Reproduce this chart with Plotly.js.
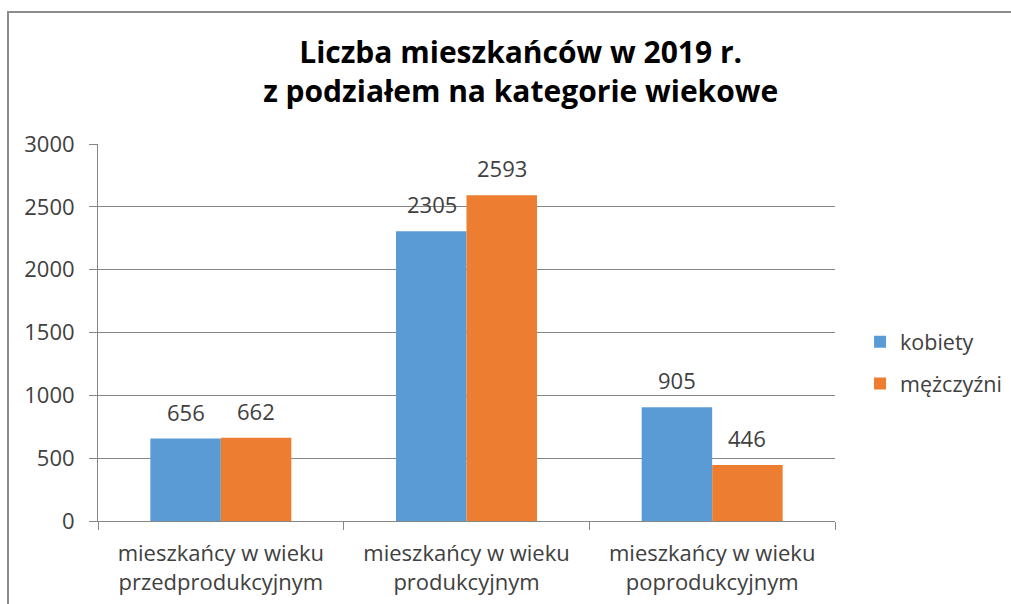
<!DOCTYPE html>
<html>
<head>
<meta charset="utf-8">
<script src="https://cdn.plot.ly/plotly-3.0.1.min.js"></script>
<style>
html,body{margin:0;padding:0;background:#fff;}
#chart{width:1011px;height:604px;}
</style>
</head>
<body>
<div id="chart"></div>
<script>
const categories = ["mieszkańcy w wieku<br>przedprodukcyjnym", "mieszkańcy w wieku<br>produkcyjnym", "mieszkańcy w wieku<br>poprodukcyjnym"];
const seriesNames = ["kobiety", "mężczyźni"];
const kobiety = [656, 2305, 905];
const mezczyzni = [662, 2593, 446];
const colors = ["#5B9BD5", "#ED7D31"];
const FONT = "'Open Sans', 'Noto Sans', sans-serif";

const traces = [
  {type: "bar", name: seriesNames[0], x: categories, y: kobiety, marker: {color: colors[0]}, legendgroup: "a", hoverinfo: "y"},
  {type: "bar", name: seriesNames[1], x: categories, y: mezczyzni, marker: {color: colors[1]}, legendgroup: "b", hoverinfo: "y"}
];

const annotations = [];
[kobiety, mezczyzni].forEach((arr, si) => {
  arr.forEach((v, i) => {
    annotations.push({
      x: categories[i], y: v, xref: "x", yref: "y",
      text: String(v), showarrow: false,
      xshift: si === 0 ? -35 : 35, yanchor: "bottom", yshift: 10,
      font: {family: FONT, size: 22, color: "#404040"}
    });
  });
});

const layout = {
  width: 1011, height: 604,
  margin: {l: 98, r: 176, t: 144, b: 83, autoexpand: false},
  paper_bgcolor: "#fff", plot_bgcolor: "#fff",
  barmode: "group", bargap: 0.426, bargroupgap: 0,
  font: {family: FONT, size: 22, color: "#404040"},
  title: {
    text: "<b>Liczba mieszkańców w 2019 r.<br>z podziałem na kategorie wiekowe</b>",
    font: {family: FONT, size: 30, color: "#000"},
    x: 0.515, xanchor: "center", xref: "container",
    y: 1 - 63/604, yanchor: "top", yref: "container"
  },
  xaxis: {
    type: "category", showline: true, linecolor: "#868686", linewidth: 1,
    ticks: "outside", tickson: "boundaries", ticklen: 8, tickcolor: "#868686",
    ticklabelstandoff: 13, automargin: false,
    tickfont: {family: FONT, size: 22, color: "#404040"},
    showgrid: false, fixedrange: true
  },
  yaxis: {
    range: [0, 3000], dtick: 500, showline: true, linecolor: "#868686", linewidth: 1,
    ticks: "outside", ticklen: 8, tickcolor: "#868686", ticklabelstandoff: 10,
    gridcolor: "#868686", gridwidth: 1, zeroline: false, automargin: false,
    tickfont: {family: FONT, size: 22, color: "#404040"},
    fixedrange: true
  },
  legend: {
    x: 1.034, xanchor: "left", y: 0.42, yanchor: "middle",
    font: {family: FONT, size: 21.5, color: "#404040"},
    traceorder: "grouped", tracegroupgap: 11
  },
  annotations: annotations,
  shapes: [{
    type: "rect", xref: "paper", yref: "paper",
    x0: (8-98)/737, x1: (1030-98)/737, y0: (521-620)/377, y1: (521-12)/377,
    line: {color: "#8c8c8c", width: 2}, fillcolor: "rgba(0,0,0,0)", layer: "below"
  }]
};

Plotly.newPlot("chart", traces, layout, {displayModeBar: false, staticPlot: true});
</script>
</body>
</html>
